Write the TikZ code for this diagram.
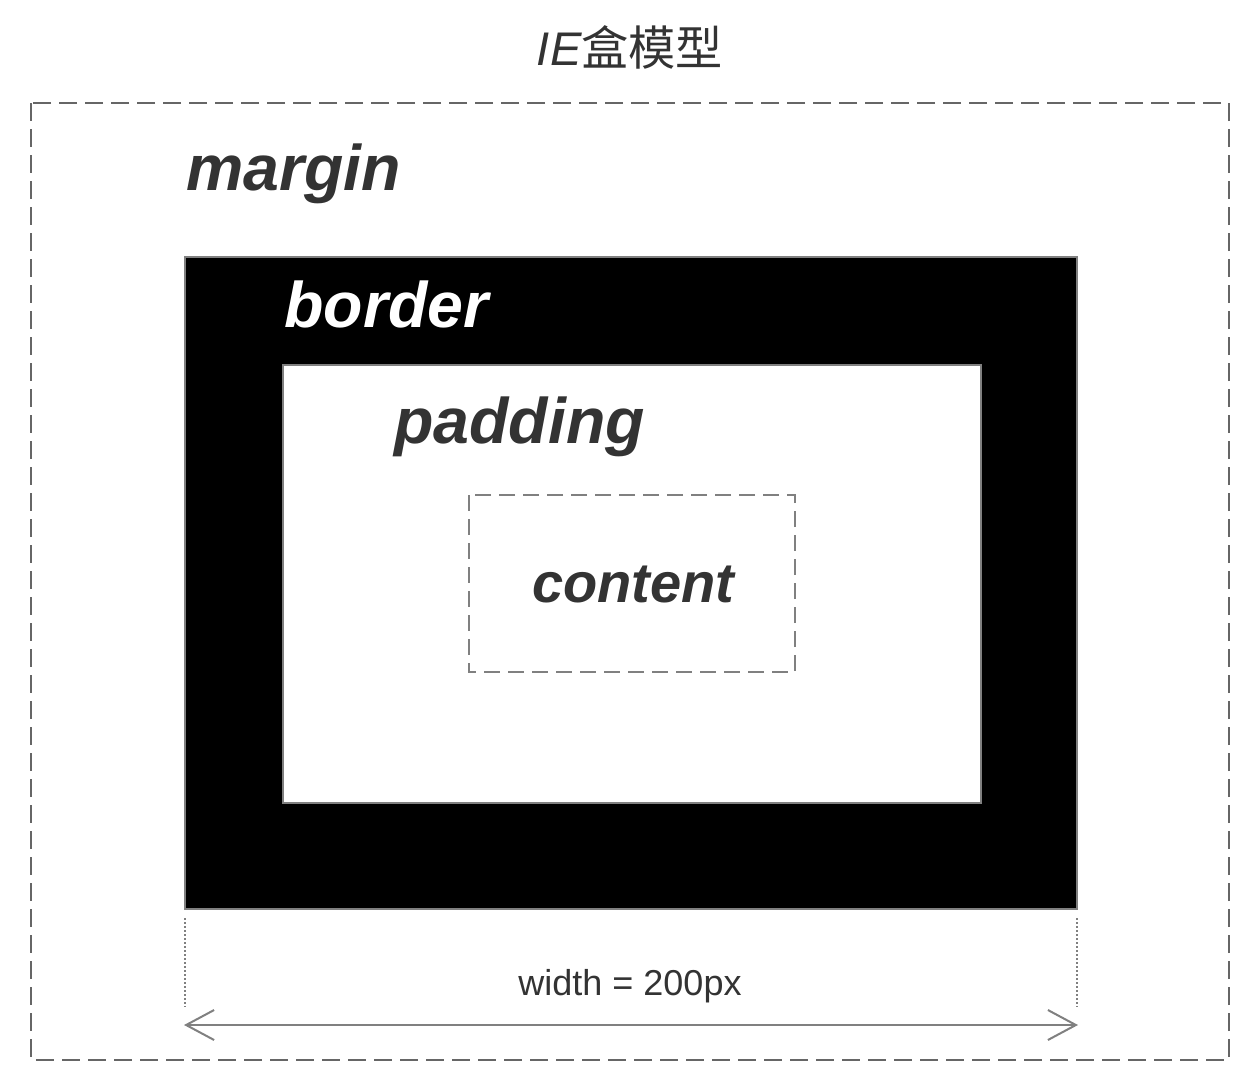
\documentclass[tikz,border=0pt]{standalone}
\usepackage{fontspec}
\setmainfont{Liberation Sans}
\newfontfamily\cjk{Noto Sans CJK SC}
\usetikzlibrary{arrows.meta}
\definecolor{txt}{HTML}{333333}
\definecolor{edge}{HTML}{808080}
\definecolor{dashc}{HTML}{666666}
\begin{document}
\begin{tikzpicture}[x=0.5pt,y=-0.5pt,
  dashbox/.style={draw=dashc,line width=1pt,dash pattern=on 9pt off 4pt},
  innerdash/.style={draw=edge,line width=1pt,dash pattern=on 8pt off 4pt},
  solidbox/.style={draw=edge,line width=1pt},
  guide/.style={draw=edge,line width=1.2pt,dash pattern=on 1pt off 1pt},
  bigword/.style={font=\bfseries\itshape\fontsize{32.2}{36}\selectfont,inner sep=0pt,anchor=base west},
  dimarrow/.style={draw=edge,line width=1pt,{Straight Barb[length=14pt,width=15pt,line width=1pt]}-{Straight Barb[length=14pt,width=15pt,line width=1pt]}}]
\useasboundingbox (0,0) rectangle (1258,1088);
% margin box
\draw[dashbox] (31,103) rectangle (1229,1060);
% border box
\draw[solidbox,fill=black] (185,257) rectangle (1077,909);
% padding box
\draw[solidbox,fill=white] (283,365) rectangle (981,803);
% content box
\draw[innerdash] (469,495) rectangle (795,672);
% title
\node[inner sep=0pt,text=txt,anchor=base] (title) at (630,65) {\fontsize{23.6}{26}\selectfont\itshape IE\cjk 盒模型};
% labels
\node[bigword,text=txt] (margin) at (186,190) {margin};
\node[bigword,text=white] (border) at (284,327) {border};
\node[bigword,text=txt] (padding) at (394,443) {padding};
\node[bigword,text=txt,font=\bfseries\itshape\fontsize{28}{32}\selectfont] (content) at (532,602) {content};
% dimension guides
\coordinate (gl1) at (185,918);
\coordinate (gl2) at (185,1007);
\coordinate (gr1) at (1077,918);
\coordinate (gr2) at (1077,1007);
\draw[guide] (gl1) -- (gl2);
\draw[guide] (gr1) -- (gr2);
\coordinate (al) at (184,1025);
\coordinate (ar) at (1078,1025);
\draw[dimarrow] (al) -- (ar);
\node[inner sep=0pt,text=txt,anchor=base,font=\fontsize{18}{21}\selectfont] (wlabel) at (630,995) {width = 200px};
\end{tikzpicture}
\end{document}
